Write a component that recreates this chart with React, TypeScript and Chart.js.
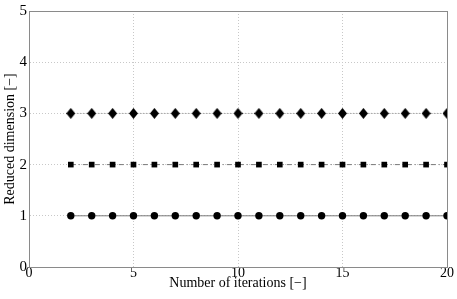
import React, { useEffect, useRef } from "react";
import { Chart, registerables } from "chart.js";

Chart.register(...registerables);

const iterations = [2, 3, 4, 5, 6, 7, 8, 9, 10, 11, 12, 13, 14, 15, 16, 17, 18, 19, 20];
const seriesCircle = [1, 1, 1, 1, 1, 1, 1, 1, 1, 1, 1, 1, 1, 1, 1, 1, 1, 1, 1];
const seriesSquare = [2, 2, 2, 2, 2, 2, 2, 2, 2, 2, 2, 2, 2, 2, 2, 2, 2, 2, 2];
const seriesDiamond = [3, 3, 3, 3, 3, 3, 3, 3, 3, 3, 3, 3, 3, 3, 3, 3, 3, 3, 3];
const xTicks = [0, 5, 10, 15, 20];
const yTicks = [0, 1, 2, 3, 4, 5];

const FONT = "'Liberation Serif', 'Times New Roman', serif";

function makeDiamond(): HTMLCanvasElement {
  const c = document.createElement("canvas");
  c.width = 9;
  c.height = 11;
  const ctx = c.getContext("2d")!;
  ctx.fillStyle = "#000";
  ctx.beginPath();
  ctx.moveTo(4.5, 0);
  ctx.lineTo(9, 5.5);
  ctx.lineTo(4.5, 11);
  ctx.lineTo(0, 5.5);
  ctx.closePath();
  ctx.fill();
  return c;
}

const boxPlugin = {
  id: "box",
  afterDraw(chart: any) {
    const { ctx, chartArea } = chart;
    ctx.save();
    ctx.strokeStyle = "#8a8a8a";
    ctx.lineWidth = 1;
    ctx.strokeRect(
      Math.round(chartArea.left) + 0.5,
      Math.round(chartArea.top) + 0.5,
      Math.round(chartArea.right - chartArea.left),
      Math.round(chartArea.bottom - chartArea.top)
    );
    ctx.restore();
  },
};

export default function App() {
  const ref = useRef<HTMLCanvasElement>(null);
  useEffect(() => {
    document.body.style.margin = "0";
    const pts = (ys: number[]) => iterations.map((x, i) => ({ x, y: ys[i] }));
    const chart = new Chart(ref.current!, {
      type: "scatter",
      data: {
        datasets: [
          {
            data: pts(seriesCircle),
            showLine: true,
            borderColor: "#7a7a7a",
            borderWidth: 1,
            pointStyle: "circle",
            pointRadius: 3.7,
            pointBackgroundColor: "#000",
            pointBorderColor: "#000",
            pointBorderWidth: 0,
          },
          {
            data: pts(seriesSquare),
            showLine: true,
            borderColor: "#7a7a7a",
            borderWidth: 1,
            borderDash: [5, 3, 1, 3],
            pointStyle: "rect",
            pointRadius: 4,
            pointBackgroundColor: "#000",
            pointBorderColor: "#000",
            pointBorderWidth: 0,
          },
          {
            data: pts(seriesDiamond),
            showLine: true,
            borderColor: "#8a8a8a",
            borderWidth: 1,
            borderDash: [1, 2],
            pointStyle: makeDiamond(),
            pointRadius: 5,
            pointBackgroundColor: "#000",
            pointBorderColor: "#000",
          },
        ],
      },
      options: {
        animation: false,
        responsive: false,
        maintainAspectRatio: false,
        layout: { padding: { top: 10, right: 10, left: 0, bottom: 0 } },
        plugins: { legend: { display: false }, tooltip: { enabled: false } },
        scales: {
          x: {
            type: "linear",
            min: 0,
            max: 20,
            afterBuildTicks: (s: any) => {
              s.ticks = xTicks.map((v) => ({ value: v }));
            },
            afterFit: (s: any) => {
              s.height = 32;
            },
            grid: { color: "#c8c8c8", drawTicks: false, lineWidth: 1 },
            border: { display: true, color: "#8a8a8a", dash: [1, 2] },
            ticks: {
              padding: -2,
              color: "#000",
              font: { family: FONT, size: 14 },
              maxRotation: 0,
            },
            title: {
              display: true,
              text: "Number of iterations [−]",
              color: "#000",
              font: { family: FONT, size: 14 },
              padding: { top: 0, bottom: 7 },
            },
          },
          y: {
            type: "linear",
            min: 0,
            max: 5,
            afterBuildTicks: (s: any) => {
              s.ticks = yTicks.map((v) => ({ value: v }));
            },
            afterFit: (s: any) => {
              s.width = 29;
            },
            grid: { color: "#c8c8c8", drawTicks: false, lineWidth: 1 },
            border: { display: true, color: "#8a8a8a", dash: [1, 2] },
            ticks: {
              padding: 2,
              color: "#000",
              font: { family: FONT, size: 15 },
            },
            title: {
              display: true,
              text: "Reduced dimension [−]",
              color: "#000",
              font: { family: FONT, size: 14 },
              padding: { top: 2, bottom: 0 },
            },
          },
        },
      },
      plugins: [boxPlugin],
    } as any);
    return () => chart.destroy();
  }, []);
  return (
    <div style={{ position: "absolute", left: 0, top: 0, width: 457, height: 299 }}>
      <canvas ref={ref} width={457} height={299} style={{ width: 457, height: 299 }} />
    </div>
  );
}
